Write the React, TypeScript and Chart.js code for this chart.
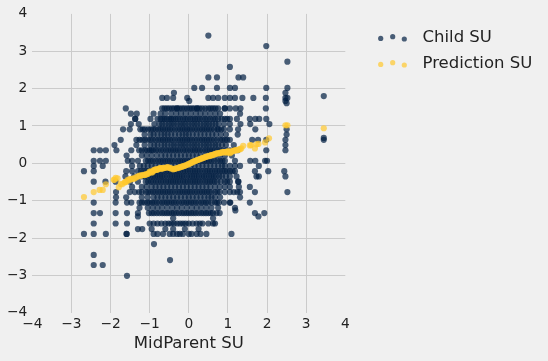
import React, { useEffect, useRef } from 'react';
import { Chart, registerables } from 'chart.js';

Chart.register(...registerables);

// Child SU rows (standard units of child height) and the MidParent SU of every child in that row
const childRowSU: number[] = [
  3.42, 3.14, 2.72, 2.58, 2.30, 2.02, 1.89, 1.80, 1.75, 1.67, 1.61, 1.47, 1.33, 1.19, 1.05, 0.91, 0.77, 0.68,
  0.63, 0.49, 0.35, 0.21, 0.07, -0.07, -0.21, -0.35, -0.49, -0.63, -0.77, -0.91, -1.05, -1.19, -1.26, -1.33,
  -1.42, -1.47, -1.61, -1.76, -1.89, -2.16, -2.45, -2.59, -2.72, -3.01,
];

const childRowMidParentSU: number[][] = [
  [0.50],
  [1.98],
  [2.52],
  [1.05],
  [0.50, 0.72, 1.27, 1.39],
  [0.14, 0.34, 0.72, 1.05, 1.18, 1.98, 2.52],
  [-0.38, 2.47],
  [3.45],
  [-0.68, -0.56, -0.40, -0.04, 0.50, 0.62, 0.75, 0.92, 1.05, 1.18, 1.37, 1.65, 1.97, 2.47, 2.52],
  [0.01, 2.47],
  [2.50],
  [-1.61, -0.68, -0.56, -0.43, -0.30, -0.30, -0.17, -0.04, 0.08, 0.21, 0.21, 0.34, 0.50, 0.62, 0.75, 0.92, 0.92, 1.05, 1.20, 1.32, 1.97,
    -0.62, -0.50, -0.37, -0.24, -0.11, 0.02, 0.14, 0.27, 0.42, 0.56, 0.68],
  [-1.48, -1.33, -0.90, -0.72, -0.45, -0.20, 0.05, 0.30, 0.55, 0.80, 1.31,
    -0.60, -0.32, -0.08, 0.18, 0.42, 0.68],
  [-1.37, -1.37, -0.98, -0.72, -0.62, -0.50, -0.40, -0.28, -0.15, -0.03, 0.10, 0.22, 0.35, 0.48, 0.62, 0.75, 0.92, 1.05, 1.23, 1.56, 1.70, 1.80, 1.98,
    -0.80, -0.67, -0.56, -0.45, -0.34, -0.22, -0.09, 0.04, 0.16, 0.28, 0.42, 0.55, 0.68, 0.84, 0.98],
  [-1.48, -1.28, -0.88, -0.75, -0.60, -0.45, -0.30, -0.15, 0.00, 0.15, 0.30, 0.45, 0.60, 0.76, 1.05, 1.32, 1.57, 2.06,
    -0.68, -0.52, -0.38, -0.22, -0.08, 0.08, 0.22, 0.38, 0.52, 0.68, 0.90],
  [-1.68, -1.51, -1.24, -1.12, -0.97, -0.85, -0.72, -0.60, -0.48, -0.35, -0.22, -0.10, 0.02, 0.15, 0.28, 0.40, 0.52, 0.65, 0.73, 0.76, 0.90, 1.05, 1.26, 1.70, 2.50,
    -1.18, -1.04, -0.91, -0.78, -0.66, -0.54, -0.42, -0.28, -0.16, -0.04, 0.08, 0.21, 0.34, 0.46, 0.58, 0.83],
  [-1.13, -0.98, -0.80, -0.62, -0.45, -0.25, -0.08, 0.10, 0.30, 0.50, 0.70, 0.95, 1.25, 2.50,
    -0.90, -0.70, -0.54, -0.35, -0.16, 0.00, 0.20, 0.40, 0.60, 0.82],
  [3.45],
  [-1.74, -1.34, -1.26, -1.12, -0.98, -0.85, -0.72, -0.60, -0.48, -0.35, -0.22, -0.10, 0.02, 0.15, 0.28, 0.40, 0.52, 0.65, 0.80, 0.92, 1.05, 1.62, 1.77, 1.98, 2.47, 3.45,
    -1.19, -1.05, -0.92, -0.78, -0.66, -0.54, -0.42, -0.28, -0.16, -0.04, 0.08, 0.21, 0.34, 0.46, 0.58, 0.72, 0.86, 0.98],
  [-1.90, -1.34, -1.13, -0.98, -0.80, -0.62, -0.45, -0.30, -0.15, 0.00, 0.15, 0.30, 0.45, 0.60, 0.75, 0.95, 1.15, 2.47,
    -0.88, -0.70, -0.54, -0.38, -0.22, -0.08, 0.08, 0.22, 0.38, 0.52, 0.68, 0.85],
  [-2.43, -2.27, -2.12, -1.85, -1.47, -1.27, -1.12, -1.00, -0.91, -0.78, -0.65, -0.52, -0.40, -0.28, -0.15, -0.03, 0.10, 0.22, 0.35, 0.48, 0.60, 0.73, 0.85, 1.05, 1.25, 1.98, 2.47,
    -1.20, -1.06, -0.95, -0.84, -0.71, -0.58, -0.46, -0.34, -0.22, -0.09, 0.04, 0.16, 0.28, 0.42, 0.54, 0.66, 0.79, 0.95, 1.15],
  [-1.59, -1.20, -0.95, -0.70, -0.50, -0.30, -0.10, 0.10, 0.30, 0.55, 0.80, 1.10,
    -1.08, -0.82, -0.60, -0.40, -0.20, 0.00, 0.20, 0.42, 0.68, 0.92],
  [-2.43, -2.27, -2.12, -1.56, -1.45, -1.30, -1.10, -0.98, -0.85, -0.72, -0.60, -0.48, -0.35, -0.22, -0.10, 0.02, 0.15, 0.28, 0.40, 0.52, 0.65, 0.73, 0.80, 0.92, 1.18, 1.57, 1.70, 1.95, 2.00,
    -1.04, -0.92, -0.78, -0.66, -0.54, -0.42, -0.28, -0.16, -0.04, 0.08, 0.21, 0.34, 0.46, 0.58, 0.86],
  [-2.43, -2.20, -1.45, -1.25, -1.05, -0.85, -0.65, -0.45, -0.25, -0.05, 0.15, 0.35, 0.55, 0.75, 0.92, 1.05, 1.18, 1.31, 1.79,
    -1.15, -0.95, -0.75, -0.55, -0.35, -0.15, 0.05, 0.25, 0.45, 0.65, 0.85],
  [-2.68, -2.43, -1.60, -1.45, -1.30, -1.15, -1.02, -0.90, -0.78, -0.65, -0.52, -0.40, -0.28, -0.15, -0.03, 0.10, 0.22, 0.35, 0.48, 0.60, 0.67, 0.79, 0.92, 1.05, 1.18, 1.69, 2.03, 2.44,
    -1.22, -1.08, -0.96, -0.84, -0.71, -0.58, -0.46, -0.34, -0.22, -0.09, 0.04, 0.16, 0.28, 0.42, 0.54, 0.73, 0.86, 0.98, 1.12],
  [-1.62, -1.40, -1.20, -1.05, -0.92, -0.80, -0.68, -0.55, -0.42, -0.30, -0.18, -0.05, 0.08, 0.20, 0.33, 0.45, 0.58, 0.70, 0.85, 1.05, 1.22, 1.73, 1.79, 2.47,
    -1.12, -0.98, -0.86, -0.74, -0.62, -0.48, -0.36, -0.24, -0.12, 0.02, 0.14, 0.26, 0.39, 0.52, 0.64, 0.78, 0.95],
  [-2.43, -2.13, -1.87, -1.50, -1.30, -1.04, -0.91, -0.78, -0.65, -0.52, -0.40, -0.28, -0.15, -0.03, 0.10, 0.22, 0.35, 0.48, 0.60, 0.73, 0.92, 1.05, 1.26, 1.27,
    -1.10, -0.97, -0.84, -0.71, -0.58, -0.46, -0.34, -0.22, -0.09, 0.04, 0.16, 0.28, 0.42, 0.54, 0.66, 0.82, 0.98],
  [-1.45, -1.20, -0.95, -0.75, -0.55, -0.35, -0.15, 0.05, 0.25, 0.45, 0.67, 0.79, 0.92, 1.05, 1.28, 1.56,
    -1.08, -0.85, -0.65, -0.45, -0.25, -0.05, 0.15, 0.35, 0.55],
  [-1.86, -1.51, -1.38, -1.27, -1.10, -0.98, -0.85, -0.72, -0.60, -0.48, -0.35, -0.22, -0.10, 0.02, 0.15, 0.28, 0.40, 0.52, 0.67, 0.79, 1.05, 1.24, 1.31, 1.69, 2.52,
    -1.20, -1.04, -0.91, -0.78, -0.66, -0.54, -0.42, -0.28, -0.16, -0.04, 0.08, 0.21, 0.34, 0.46, 0.58, 0.73, 0.92, 1.15],
  [-1.86, -1.60, -1.20, -0.90, -0.70, -0.50, -0.30, -0.10, 0.10, 0.30, 0.50, 0.67, 1.31,
    -1.05, -0.80, -0.60, -0.40, -0.20, 0.00, 0.20, 0.40, 0.58, 0.80],
  [-2.43, -1.87, -1.58, -1.47, -1.26, -1.13, -1.00, -0.88, -0.75, -0.62, -0.50, -0.38, -0.25, -0.12, 0.00, 0.12, 0.25, 0.38, 0.50, 0.67, 0.77, 1.05, 1.06, 1.56,
    -1.20, -1.06, -0.94, -0.82, -0.68, -0.56, -0.44, -0.32, -0.18, -0.06, 0.06, 0.18, 0.32, 0.44, 0.58, 0.72, 0.90],
  [-1.26, -1.05, -0.80, -0.55, -0.30, -0.05, 0.20, 0.45, 0.75, 1.18,
    -0.92, -0.68, -0.42, -0.18, 0.08, 0.32, 0.58],
  [1.19],
  [-2.43, -2.27, -1.87, -1.58, -1.30, -1.02, -0.89, -0.75, -0.62, -0.50, -0.38, -0.25, -0.12, 0.00, 0.12, 0.25, 0.38, 0.50, 0.62, 0.71, 0.79, 1.69, 1.93,
    -0.95, -0.82, -0.68, -0.56, -0.44, -0.32, -0.18, -0.06, 0.06, 0.18, 0.32, 0.44, 0.56],
  [-1.30, 1.78],
  [-0.40, 0.62],
  [-2.43, -1.87, -1.58, -1.00, -0.80, -0.60, -0.45, -0.30, -0.15, 0.00, 0.20, 0.35, 0.62, 0.67,
    -0.90, -0.70, -0.52, -0.38, -0.22, -0.08, 0.10, 0.28, 0.50],
  [-1.30, -1.19, -0.95, -0.60, -0.40, -0.10, 0.25],
  [-2.68, -2.43, -2.12, -1.59, -1.59, -0.90, -0.66, -0.49, -0.40, -0.23, -0.15, 0.07, 0.20, 0.45, 1.09,
    -0.80, -0.30, 0.00, 0.30],
  [-0.89],
  [-2.43],
  [-0.48],
  [-2.43, -2.20],
  [-1.58],
];

// Prediction SU points
const predictionMidParentSU: number[] = [
  -2.68, -2.43, -2.28, -2.20, -2.12, -1.92, -1.87, -1.79, -1.74, -1.64, -1.60, -1.56, -1.51, -1.45, -1.38, -1.34,
  -1.26, -1.20, -1.13, -1.08, -1.04, -1.00, -0.95, -0.91, -0.87, -0.83, -0.79, -0.74, -0.70, -0.66, -0.60, -0.53,
  -0.47, -0.40, -0.34, -0.27, -0.21, -0.15, -0.09, -0.02, 0.03, 0.08, 0.13, 0.18, 0.23, 0.28, 0.33, 0.38, 0.43,
  0.48, 0.53, 0.58, 0.62, 0.67, 0.72, 0.77, 0.82, 0.87, 0.92, 0.97, 1.01, 1.05, 1.10, 1.15, 1.20, 1.25, 1.31,
  1.39, 1.56, 1.59, 1.69, 1.73, 1.78, 1.95, 2.05, 2.47, 2.52, 3.45,
  -1.90, -1.82, -1.70, -1.62, -1.54, -1.48, -1.41, -1.30, -1.23, -1.16, -1.10, -1.02, -0.97, -0.93, -0.89, -0.85,
  -0.81, -0.77, -0.72, -0.68, -0.63, -0.56, -0.50, -0.44, -0.37, -0.30, -0.24, -0.18, -0.12, -0.05, 0.00, 0.05,
  0.10, 0.15, 0.20, 0.25, 0.30, 0.35, 0.40, 0.45, 0.50, 0.55, 0.60, 0.65, 0.70, 0.75, 0.80, 0.85, 0.90, 0.95,
  0.99, 1.03, 1.08, 1.13, 1.18, 1.22, 1.28, 1.34,
];
const predictionSU: number[] = [
  -0.90, -0.77, -0.71, -0.71, -0.56, -0.44, -0.39, -0.64, -0.55, -0.51, -0.49, -0.44, -0.42, -0.41, -0.40, -0.37,
  -0.33, -0.32, -0.31, -0.29, -0.28, -0.22, -0.24, -0.20, -0.17, -0.17, -0.16, -0.13, -0.14, -0.13, -0.12, -0.10,
  -0.13, -0.16, -0.14, -0.12, -0.10, -0.08, -0.06, -0.03, 0.00, 0.02, 0.05, 0.07, 0.09, 0.11, 0.13, 0.15, 0.17,
  0.19, 0.20, 0.22, 0.23, 0.25, 0.27, 0.27, 0.29, 0.30, 0.30, 0.29, 0.33, 0.27, 0.32, 0.34, 0.35, 0.36, 0.38,
  0.47, 0.48, 0.49, 0.40, 0.51, 0.52, 0.56, 0.67, 1.02, 1.02, 0.94,
  -0.44, -0.40, -0.56, -0.50, -0.46, -0.43, -0.41, -0.35, -0.33, -0.31, -0.30, -0.26, -0.22, -0.24, -0.19, -0.17,
  -0.17, -0.15, -0.13, -0.14, -0.12, -0.11, -0.12, -0.14, -0.15, -0.13, -0.11, -0.09, -0.07, -0.04, -0.02, 0.01,
  0.04, 0.06, 0.08, 0.10, 0.12, 0.14, 0.16, 0.18, 0.19, 0.21, 0.22, 0.24, 0.26, 0.27, 0.28, 0.29, 0.30, 0.30,
  0.31, 0.30, 0.30, 0.33, 0.35, 0.35, 0.37, 0.40,
];

const seriesLabels = ['Child SU', 'Prediction SU'];
const xAxisLabel = 'MidParent SU';
const axisMin = -4;
const axisMax = 4;

const NAVY = 'rgba(0, 30, 66, 0.7)';
const GOLD = 'rgba(255, 200, 44, 0.7)';
const GRID = '#cbcbcb';
const TEXT = '#222222';
const FONT = "'DejaVu Sans', sans-serif";

const fmt = (v: number | string) => {
  const n = Number(v);
  return n < 0 ? '\u2212' + Math.abs(n) : String(n);
};

const legendPlugin = {
  id: 'dotLegend',
  afterDraw(chart: any) {
    const ctx = chart.ctx as CanvasRenderingContext2D;
    const rows = [37.6, 63.6];
    const dotX = [380.7, 392.7, 404.3];
    const dotDY = [0.8, -0.9, 1.4];
    ctx.save();
    chart.data.datasets.forEach((ds: any, i: number) => {
      const cy = rows[i];
      ctx.fillStyle = ds.backgroundColor;
      dotX.forEach((dx, k) => {
        ctx.beginPath();
        ctx.arc(dx, cy + dotDY[k], 2.6, 0, Math.PI * 2);
        ctx.fill();
      });
      ctx.fillStyle = TEXT;
      ctx.font = `16.5px ${FONT}`;
      ctx.textBaseline = 'middle';
      ctx.textAlign = 'left';
      ctx.fillText(ds.label, 422.5, cy);
    });
    ctx.restore();
  },
};

export default function App() {
  const ref = useRef<HTMLCanvasElement>(null);

  useEffect(() => {
    if (!ref.current) return;
    const childPoints: { x: number; y: number }[] = [];
    childRowSU.forEach((y, i) => {
      childRowMidParentSU[i].forEach((x) => childPoints.push({ x, y }));
    });
    const predPoints = predictionMidParentSU.map((x, i) => ({ x, y: predictionSU[i] }));

    const gridColor = (c: any) =>
      c.tick && (c.tick.value === axisMin || c.tick.value === axisMax) ? 'rgba(0,0,0,0)' : GRID;

    const chart = new Chart(ref.current, {
      type: 'scatter',
      data: {
        datasets: [
          {
            label: seriesLabels[0],
            data: childPoints,
            backgroundColor: NAVY,
            borderWidth: 0,
            pointRadius: 3.1,
            pointHoverRadius: 3.1,
            order: 1,
          },
          {
            label: seriesLabels[1],
            data: predPoints,
            backgroundColor: GOLD,
            borderWidth: 0,
            pointRadius: 3.1,
            pointHoverRadius: 3.1,
            order: 0,
          },
        ],
      },
      options: {
        animation: false,
        responsive: false,
        maintainAspectRatio: false,
        events: [],
        layout: { padding: { left: 0, right: 202.7, top: 13.9, bottom: 0 } },
        plugins: {
          legend: { display: false },
          tooltip: { enabled: false },
        },
        font: { family: FONT },
        scales: {
          x: {
            type: 'linear',
            min: axisMin,
            max: axisMax,
            position: 'bottom',
            ticks: { stepSize: 1, padding: 3, color: TEXT, font: { size: 13.75, family: FONT }, callback: fmt },
            grid: { color: gridColor, drawTicks: false, lineWidth: 1 },
            border: { display: false },
            title: {
              display: true,
              text: xAxisLabel,
              color: TEXT,
              font: { size: 16.5, family: FONT },
              padding: { top: 0, bottom: 7.5 },
            },
            afterFit: (s: any) => {
              s.height = 48.2;
            },
          },
          y: {
            type: 'linear',
            min: axisMin,
            max: axisMax,
            ticks: { stepSize: 1, padding: 5, color: TEXT, font: { size: 13.75, family: FONT }, callback: fmt },
            grid: { color: gridColor, drawTicks: false, lineWidth: 1 },
            border: { display: false },
            afterFit: (s: any) => {
              s.width = 32.3;
            },
          },
        },
      } as any,
      plugins: [legendPlugin],
    });
    return () => chart.destroy();
  }, []);

  return (
    <div style={{ position: 'fixed', left: 0, top: 0, width: 548, height: 361, background: '#f0f0f0' }}>
      <canvas ref={ref} width={548} height={361} style={{ display: 'block', width: 548, height: 361 }} />
    </div>
  );
}
